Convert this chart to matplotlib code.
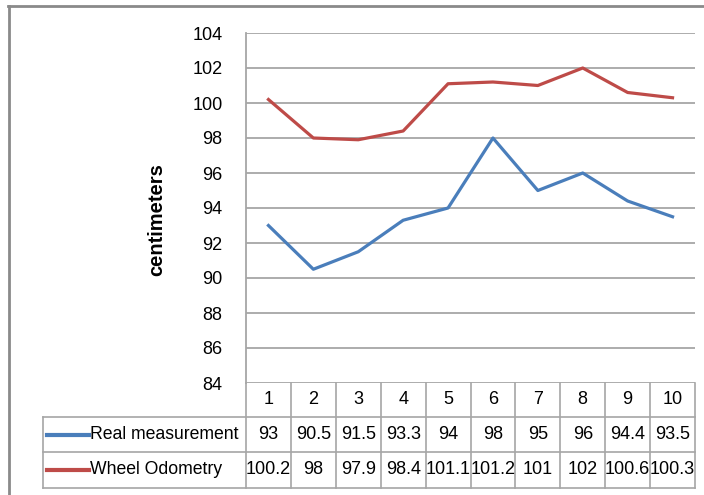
import matplotlib
matplotlib.use("Agg")
import matplotlib.pyplot as plt
from matplotlib.lines import Line2D

# Data
categories = ["1", "2", "3", "4", "5", "6", "7", "8", "9", "10"]
real_measurement = [93, 90.5, 91.5, 93.3, 94, 98, 95, 96, 94.4, 93.5]
wheel_odometry = [100.2, 98, 97.9, 98.4, 101.1, 101.2, 101, 102, 100.6, 100.3]
series_names = ["Real measurement", "Wheel Odometry"]
y_ticks = [84, 86, 88, 90, 92, 94, 96, 98, 100, 102, 104]

BLUE = "#4a7ebb"
RED = "#be4b48"
GRID = "#a6a6a6"
FONT = ["Liberation Sans", "DejaVu Sans"]
FS = 13

W, H = 704, 495
fig = plt.figure(figsize=(W / 100, H / 100), dpi=100)

def fx(px):
    return px / W

def fy(py):
    return 1 - py / H

left_px, right_px, top_px, bottom_px = 246, 695, 33, 383
ax = fig.add_axes([fx(left_px), fy(bottom_px), fx(right_px - left_px), (bottom_px - top_px) / H])

x = list(range(len(categories)))
ax.plot(x, real_measurement, color=BLUE, lw=2.3, solid_joinstyle="round")
ax.plot(x, wheel_odometry, color=RED, lw=2.3, solid_joinstyle="round")

ax.set_xlim(-0.5, len(categories) - 0.5)
ax.set_ylim(y_ticks[0], y_ticks[-1])
ax.set_yticks(y_ticks)
ax.set_yticklabels([str(t) for t in y_ticks], fontsize=FS, family=FONT)
ax.set_xticks([])
ax.tick_params(axis="y", length=0, pad=17)
ax.yaxis.grid(True, color=GRID, lw=1.3)
ax.set_axisbelow(True)
for s in ["top", "right", "bottom"]:
    ax.spines[s].set_visible(False)
ax.spines["left"].set_color(GRID)
ax.spines["left"].set_linewidth(1.3)

fig.text(fx(157), fy(220), "centimeters", rotation=90, ha="center", va="center",
         fontsize=14.5, fontweight="bold", family=FONT)

# Data table beneath the plot
col_w = (right_px - left_px) / len(categories)
row_top = [383, 417, 452]
row_bot = [417, 452, 488]
tbl_left = 43
lc = GRID
lw = 1.2

def hline(y, x0, x1):
    fig.add_artist(Line2D([fx(x0), fx(x1)], [fy(y), fy(y)], color=lc, lw=lw))

def vline(xp, y0, y1):
    fig.add_artist(Line2D([fx(xp), fx(xp)], [fy(y0), fy(y1)], color=lc, lw=lw))

hline(417, tbl_left, right_px)
hline(452, tbl_left, right_px)
hline(488, tbl_left, right_px)
vline(tbl_left, 417, 488)
for i in range(len(categories) + 1):
    vline(left_px + i * col_w, 383, 488)

for i, c in enumerate(categories):
    cx = left_px + (i + 0.5) * col_w
    fig.text(fx(cx), fy(400), c, ha="center", va="center", fontsize=FS, family=FONT)

for r, (name, vals, col) in enumerate(zip(series_names, [real_measurement, wheel_odometry], [BLUE, RED])):
    cy = (row_top[r + 1] + row_bot[r + 1]) / 2
    fig.add_artist(Line2D([fx(47), fx(89)], [fy(cy), fy(cy)], color=col, lw=3))
    fig.text(fx(90), fy(cy), name, ha="left", va="center", fontsize=12.7, family=FONT)
    for i, v in enumerate(vals):
        cx = left_px + (i + 0.5) * col_w
        fig.text(fx(cx), fy(cy), f"{v:g}", ha="center", va="center", fontsize=FS, family=FONT)

# Outer frame edges
fig.add_artist(Line2D([fx(8), fx(W)], [fy(6), fy(6)], color="#8a8a8a", lw=2))
fig.add_artist(Line2D([fx(9), fx(9)], [fy(6), fy(H)], color="#8a8a8a", lw=2))

fig.savefig("out.png", dpi=100)
